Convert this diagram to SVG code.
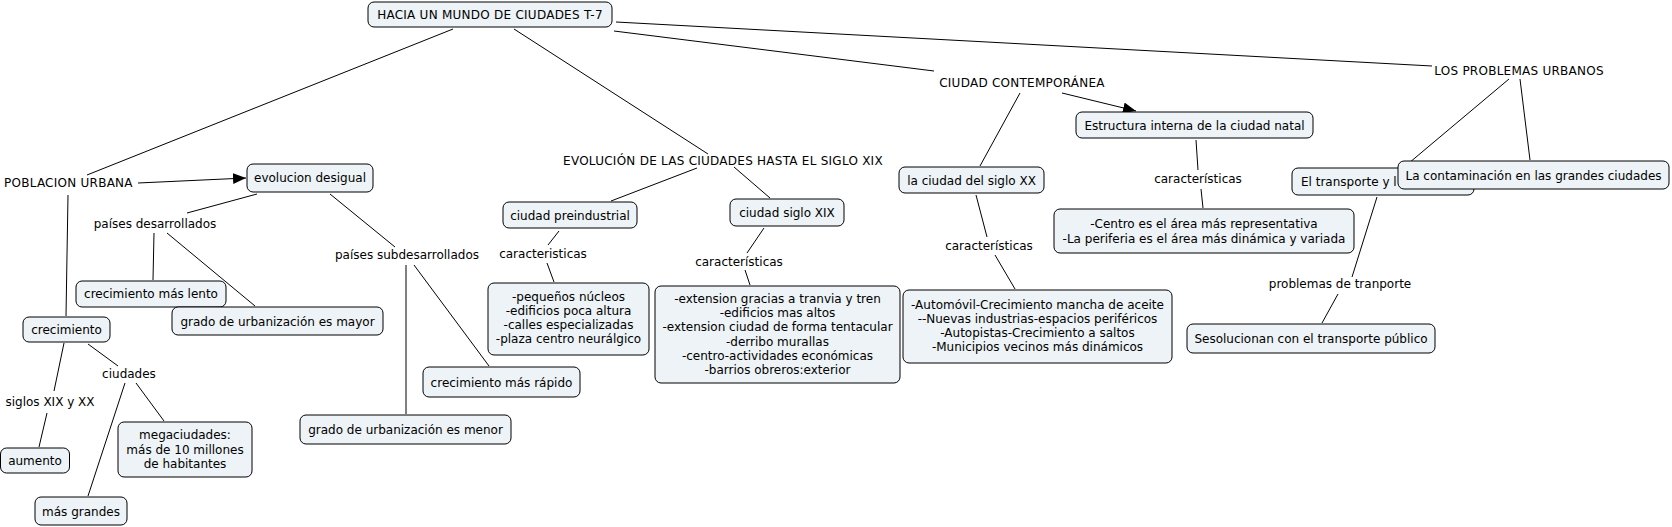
<svg xmlns="http://www.w3.org/2000/svg" width="1672" height="527" viewBox="0 0 1672 527">
<style>
text{font-family:"DejaVu Sans","Liberation Sans",sans-serif;font-size:12px;fill:#000}
.n rect{fill:#edf3f6;stroke:#000;stroke-width:1}
.c line{stroke:#000;stroke-width:1}
.m{text-anchor:middle}
.u{letter-spacing:0.25px}
</style>
<defs>
<marker id="arr" markerUnits="userSpaceOnUse" markerWidth="14" markerHeight="12" refX="13" refY="5.5" orient="auto">
<path d="M0,0 L13,5.5 L0,11 z" fill="#000"/>
</marker>
</defs>
<rect width="1672" height="527" fill="#fff"/>
<g id="connectors" class="c">
<line x1="453" y1="29" x2="87" y2="175"/>
<line x1="514" y1="29" x2="708" y2="154"/>
<line x1="614" y1="31" x2="934" y2="71"/>
<line x1="616" y1="22" x2="1432" y2="66"/>
<line x1="138" y1="183" x2="246" y2="178" marker-end="url(#arr)"/>
<line x1="68" y1="195" x2="66" y2="316"/>
<line x1="257" y1="194" x2="187" y2="213"/>
<line x1="330" y1="194" x2="395" y2="247"/>
<line x1="154" y1="233" x2="153" y2="280"/>
<line x1="167" y1="233" x2="255" y2="306"/>
<line x1="406" y1="265" x2="406" y2="414"/>
<line x1="414" y1="265" x2="489" y2="366"/>
<line x1="64" y1="343" x2="54" y2="391"/>
<line x1="47" y1="413" x2="39" y2="447"/>
<line x1="88" y1="344" x2="118" y2="366"/>
<line x1="125" y1="383" x2="88" y2="496"/>
<line x1="136" y1="383" x2="164" y2="421"/>
<line x1="697" y1="168" x2="611" y2="201"/>
<line x1="734" y1="167" x2="770" y2="198"/>
<line x1="559" y1="231" x2="548" y2="245"/>
<line x1="547" y1="263" x2="554" y2="282"/>
<line x1="764" y1="228" x2="747" y2="253"/>
<line x1="745" y1="270" x2="750" y2="285"/>
<line x1="1020" y1="93" x2="980" y2="166"/>
<line x1="1062" y1="93" x2="1136" y2="111" marker-end="url(#arr)"/>
<line x1="976" y1="195" x2="987" y2="237"/>
<line x1="995" y1="255" x2="1015" y2="289"/>
<line x1="1196" y1="140" x2="1198" y2="170"/>
<line x1="1201" y1="189" x2="1203" y2="208"/>
<line x1="1509" y1="79" x2="1403" y2="168"/>
<line x1="1520" y1="79" x2="1530" y2="160"/>
<line x1="1377" y1="197" x2="1352" y2="277"/>
<line x1="1338" y1="294" x2="1322" y2="323"/>
</g>
<g id="labels">
<text id="poblacion" class="u" x="4" y="187">POBLACION URBANA</text>
<text id="paises-des" class="m" x="155" y="228">países desarrollados</text>
<text id="paises-sub" class="m" x="407" y="259">países subdesarrollados</text>
<text id="ciudades" class="m" x="129" y="378">ciudades</text>
<text id="siglos" class="m" x="50" y="406">siglos XIX y XX</text>
<text id="evolucion-ciudades" class="m u" x="723" y="165">EVOLUCIÓN DE LAS CIUDADES HASTA EL SIGLO XIX</text>
<text id="caract1" class="m" x="543" y="258">caracteristicas</text>
<text id="caract2" class="m" x="739" y="266">características</text>
<text id="contemporanea" class="m u" x="1022" y="87">CIUDAD CONTEMPORÁNEA</text>
<text id="caract3" class="m" x="989" y="250">características</text>
<text id="caract4" class="m" x="1198" y="183">características</text>
<text id="problemas" class="m u" x="1519" y="75">LOS PROBLEMAS URBANOS</text>
<text id="problemas-tr" class="m" x="1340" y="288">problemas de tranporte</text>
</g>
<g id="n-hacia" class="n"><rect x="368" y="2" width="244" height="25" rx="6"/><text class="m u" x="490" y="19">HACIA UN MUNDO DE CIUDADES T-7</text></g>
<g id="n-evolucion" class="n"><rect x="247" y="164" width="126" height="28" rx="6"/><text class="m" x="310" y="182">evolucion desigual</text></g>
<g id="n-lento" class="n"><rect x="76" y="281" width="150" height="26" rx="6"/><text class="m" x="151" y="298">crecimiento más lento</text></g>
<g id="n-mayor" class="n"><rect x="172" y="307" width="211" height="28" rx="6"/><text class="m" x="277.5" y="325.5">grado de urbanización es mayor</text></g>
<g id="n-crecimiento" class="n"><rect x="23" y="317" width="87" height="25" rx="6"/><text class="m" x="66.5" y="334">crecimiento</text></g>
<g id="n-aumento" class="n"><rect x="0.5" y="448" width="69" height="25" rx="6"/><text class="m" x="35" y="465">aumento</text></g>
<g id="n-mega" class="n"><rect x="118" y="422" width="134" height="55" rx="6"/><text class="m" x="185" y="439">megaciudades:</text><text class="m" x="185" y="453.5">más de 10 millones</text><text class="m" x="185" y="467.5">de habitantes</text></g>
<g id="n-grandes" class="n"><rect x="35" y="497" width="92" height="28" rx="6"/><text class="m" x="81" y="515.5">más grandes</text></g>
<g id="n-rapido" class="n"><rect x="423" y="367" width="157" height="30" rx="6"/><text class="m" x="501.5" y="386.5">crecimiento más rápido</text></g>
<g id="n-menor" class="n"><rect x="300" y="415" width="211" height="29" rx="6"/><text class="m" x="405.5" y="434">grado de urbanización es menor</text></g>
<g id="n-preind" class="n"><rect x="503" y="202" width="134" height="26" rx="6"/><text class="m" x="570" y="219.5">ciudad preindustrial</text></g>
<g id="n-preind-list" class="n"><rect x="488" y="283" width="161" height="72" rx="6"/><text class="m" x="568.5" y="301">-pequeños núcleos</text><text class="m" x="568.5" y="315">-edificios poca altura</text><text class="m" x="568.5" y="329">-calles especializadas</text><text class="m" x="568.5" y="343">-plaza centro neurálgico</text></g>
<g id="n-xix" class="n"><rect x="730" y="199" width="114" height="27" rx="6"/><text class="m" x="787" y="217">ciudad siglo XIX</text></g>
<g id="n-xix-list" class="n"><rect x="655" y="286" width="245" height="97" rx="6"/><text class="m" x="777.5" y="303">-extension gracias a tranvia y tren</text><text class="m" x="777.5" y="317.2">-edificios mas altos</text><text class="m" x="777.5" y="331.4">-extension ciudad de forma tentacular</text><text class="m" x="777.5" y="345.6">-derribo murallas</text><text class="m" x="777.5" y="359.8">-centro-actividades económicas</text><text class="m" x="777.5" y="374">-barrios obreros:exterior</text></g>
<g id="n-xx" class="n"><rect x="899" y="167" width="145" height="26" rx="6"/><text class="m" x="971.5" y="184.5">la ciudad del siglo XX</text></g>
<g id="n-xx-list" class="n"><rect x="903" y="290" width="269" height="73" rx="6"/><text class="m" x="1037.5" y="309">-Automóvil-Crecimiento mancha de aceite</text><text class="m" x="1037.5" y="323">--Nuevas industrias-espacios periféricos</text><text class="m" x="1037.5" y="337">-Autopistas-Crecimiento a saltos</text><text class="m" x="1037.5" y="351">-Municipios vecinos más dinámicos</text></g>
<g id="n-estructura" class="n"><rect x="1076" y="112" width="237" height="26" rx="6"/><text class="m" x="1194.5" y="129.5">Estructura interna de la ciudad natal</text></g>
<g id="n-centro" class="n"><rect x="1054" y="209" width="300" height="44" rx="6"/><text class="m" x="1204" y="228">-Centro es el área más representativa</text><text class="m" x="1204" y="242.5">-La periferia es el área más dinámica y variada</text></g>
<g id="n-transporte" class="n"><rect x="1292" y="168" width="182" height="27" rx="6"/><text x="1301" y="186">El transporte y l</text></g>
<g id="n-contaminacion" class="n"><rect x="1398" y="161" width="271" height="28" rx="6"/><text class="m" x="1533.5" y="179.5">La contaminación en las grandes ciudades</text></g>
<g id="n-publico" class="n"><rect x="1187" y="324" width="248" height="29" rx="6"/><text class="m" x="1311" y="343">Sesolucionan con el transporte público</text></g>
</svg>
